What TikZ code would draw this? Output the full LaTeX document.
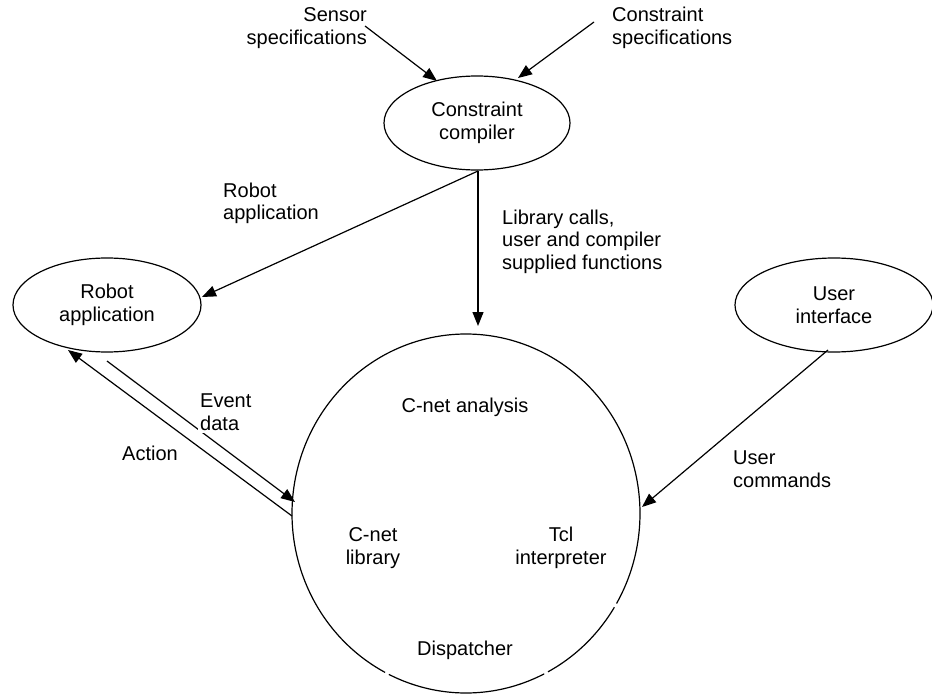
\documentclass[tikz,border=0pt]{standalone}
\usepackage{fontspec}
\setmainfont{Liberation Sans}
\usetikzlibrary{shapes.geometric,arrows.meta}
\tikzset{
  txt/.style={font=\fontsize{20}{22.5}\selectfont, inner sep=0pt},
  blob/.style={ellipse, draw, line width=1.2pt, inner sep=0pt, align=center,
    font=\fontsize{20}{22.5}\selectfont},
  conn/.style={line width=1.2pt, -{Triangle[length=14pt,width=11pt]}},
  plain/.style={line width=1.2pt}
}
\begin{document}
\begin{tikzpicture}[x=1pt,y=-1pt]
\useasboundingbox (0,0) rectangle (932,695);

% ellipses
\node[blob, minimum width=186pt, minimum height=94pt] (cc) at (477,123) {Constraint\\compiler};
\node[blob, minimum width=188pt, minimum height=94pt] (ra) at (107,305) {Robot\\application};
\node[blob, minimum width=198pt, minimum height=94pt] (ui) at (834,305) {User\\interface};

% big circle (drawn with small breaks as in the reference)
\node[ellipse, minimum width=348pt, minimum height=359pt, inner sep=0pt] (cnet) at (466,513.5) {};
\draw[plain] plot[domain=31.5:61.9, samples=40, smooth] ({466+174*cos(\x)},{513.5+179.5*sin(\x)});
\draw[plain] plot[domain=63.3:116.3, samples=60, smooth] ({466+174*cos(\x)},{513.5+179.5*sin(\x)});
\draw[plain] plot[domain=117.7:390.1, samples=240, smooth] ({466+174*cos(\x)},{513.5+179.5*sin(\x)});

% texts inside circle
\node[txt] (ana) at (465,407) {C-net analysis};
\node[txt, align=center] (lib) at (373,548) {C-net\\library};
\node[txt, align=center] (tcl) at (561,548) {Tcl\\interpreter};
\node[txt] (dis) at (465,650) {Dispatcher};

% outside labels
\node[txt, align=right, anchor=east] (sens) at (367,28) {Sensor\\specifications};
\node[txt, align=left, anchor=west] (cons) at (612,28) {Constraint\\specifications};
\node[txt, align=left, anchor=west] (ralbl) at (223,203.5) {Robot\\application};
\node[txt, align=left, anchor=west] (libl) at (502,241.5) {Library calls,\\user and compiler\\supplied functions};
\node[txt, anchor=west] (act) at (122,453) {Action};
\node[txt, align=left, anchor=west] (ucl) at (733,469) {User\\commands};

% connector end points
\coordinate (s1) at (365,26);
\coordinate (s2) at (437,81);
\coordinate (c1) at (594,22);
\coordinate (c2) at (518,78);
\coordinate (ccb) at (478,171);
\coordinate (rat) at (202,297);
\coordinate (cnt) at (478,326);
\coordinate (ev1) at (107,361);
\coordinate (ev2) at (295,502);
\coordinate (ac1) at (292,516);
\coordinate (ac2) at (68,350);
\coordinate (uib) at (828,350);
\coordinate (uit) at (642,507);

% connectors
\draw[conn] (s1) -- (s2);
\draw[conn] (c1) -- (c2);
\draw[conn] (ccb) -- (rat);
\draw[conn] (ccb) -- (cnt);
\draw[conn] (ev1) -- (ev2);
\draw[conn] (ac1) -- (ac2);
\draw[conn] (uib) -- (uit);

% label drawn over the event-data line
\node[txt, align=left, anchor=west, fill=white, inner sep=2.5pt] (evl) at (197.5,412) {Event\\data};
\end{tikzpicture}
\end{document}
